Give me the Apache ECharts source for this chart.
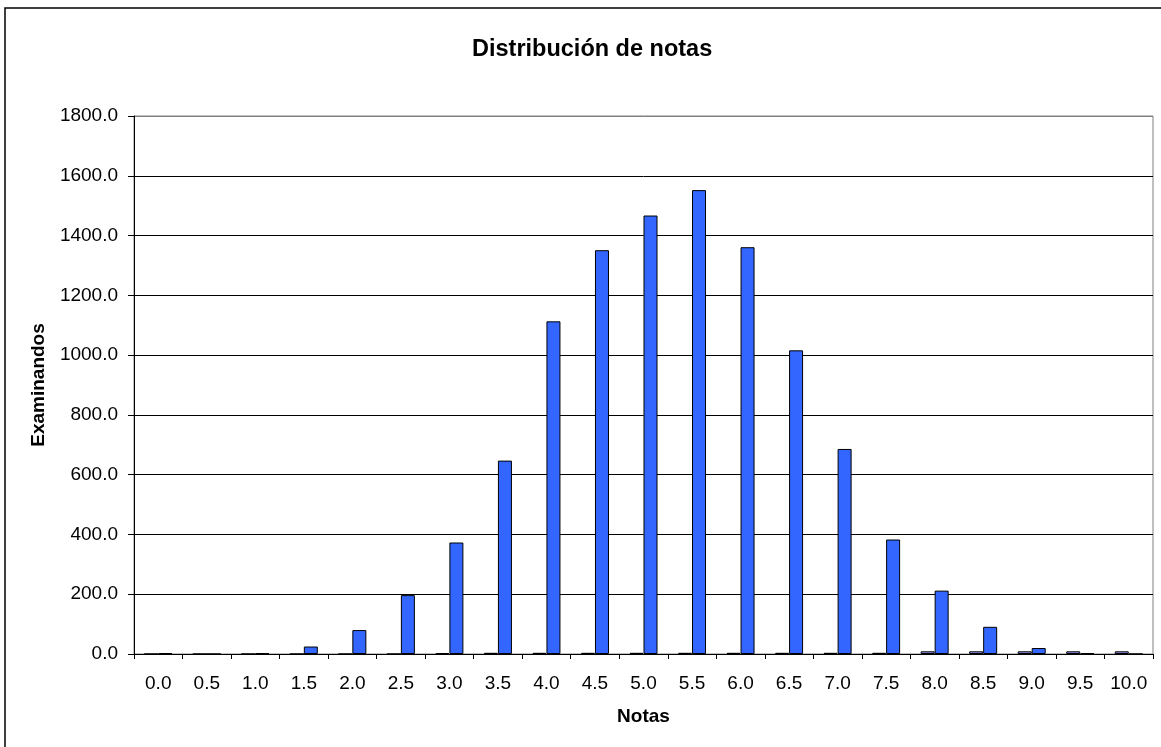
<!DOCTYPE html>
<html>
<head>
<meta charset="utf-8">
<script src="https://cdn.jsdelivr.net/npm/echarts@6/dist/echarts.min.js"></script>
<style>
  html, body { margin: 0; padding: 0; background: #fff; }
  #chart { width: 1161px; height: 747px; }
</style>
</head>
<body>
<div id="chart"></div>
<script>
const notas = ['0.0', '0.5', '1.0', '1.5', '2.0', '2.5', '3.0', '3.5', '4.0', '4.5', '5.0',
               '5.5', '6.0', '6.5', '7.0', '7.5', '8.0', '8.5', '9.0', '9.5', '10.0']
// small lavender series (left bar of each pair)
const serieA = [0, 0, 0, 0, 0, 0, 3, 4, 4, 4, 4, 4, 4, 4, 4, 4, 9, 9, 9, 9, 9]
// main blue series (right bar)
const serieB = [3, 0, 3, 25, 80, 197, 373, 647, 1113, 1351, 1467, 1552, 1361, 1016, 686, 383, 212, 91, 20, 3, 0]
const yTicks = [0, 200, 400, 600, 800, 1000, 1200, 1400, 1600, 1800]

const font = 'Liberation Sans, Arial, sans-serif'
const chart = echarts.init(document.getElementById('chart'))

chart.setOption({
  animation: false,
  textStyle: { fontFamily: font, color: '#000' },
  title: {
    text: 'Distribución de notas',
    left: 467,
    top: 33,
    textStyle: { fontFamily: font, fontSize: 23.5, fontWeight: 'bold', color: '#000' }
  },
  graphic: [{
    type: 'rect',
    shape: { x: 5, y: 8, width: 1160, height: 745 },
    style: { fill: 'none', stroke: '#000', lineWidth: 1.5 },
    silent: true
  }],
  grid: {
    left: 134, right: 8, top: 116, bottom: 93,
    show: true,
    borderColor: '#808080',
    borderWidth: 1
  },
  xAxis: {
    type: 'category',
    data: notas,
    name: 'Notas',
    nameLocation: 'middle',
    nameGap: 53,
    nameTextStyle: { fontFamily: font, fontSize: 19, fontWeight: 'bold', color: '#000' },
    axisLine: { lineStyle: { color: '#000', width: 1 } },
    axisTick: { show: true, length: 5, lineStyle: { color: '#000' } },
    axisLabel: { fontFamily: font, fontSize: 19, color: '#000', margin: 20 },
    splitLine: { show: false }
  },
  yAxis: {
    type: 'value',
    min: yTicks[0],
    max: yTicks[yTicks.length - 1],
    interval: 200,
    name: 'Examinandos',
    nameLocation: 'middle',
    nameGap: 86,
    nameTextStyle: { fontFamily: font, fontSize: 19, fontWeight: 'bold', color: '#000' },
    axisLine: { show: true, lineStyle: { color: '#000', width: 1 } },
    axisTick: { show: true, length: 6, lineStyle: { color: '#000' } },
    axisLabel: {
      fontFamily: font, fontSize: 19, color: '#000', margin: 16,
      formatter: v => v.toFixed(1)
    },
    splitLine: {
      show: true,
      lineStyle: { color: yTicks.map((t, i) => i === yTicks.length - 1 ? '#808080' : '#000'), width: 1 }
    }
  },
  series: [{
    name: 'A',
    type: 'bar',
    data: serieA,
    barWidth: 14,
    barGap: '0%',
    itemStyle: { color: '#9999FF', borderColor: '#000', borderWidth: 1 }
  }, {
    name: 'B',
    type: 'bar',
    data: serieB,
    barWidth: 14,
    barGap: '0%',
    itemStyle: { color: '#3366FF', borderColor: '#000', borderWidth: 1 }
  }]
})
</script>
</body>
</html>
